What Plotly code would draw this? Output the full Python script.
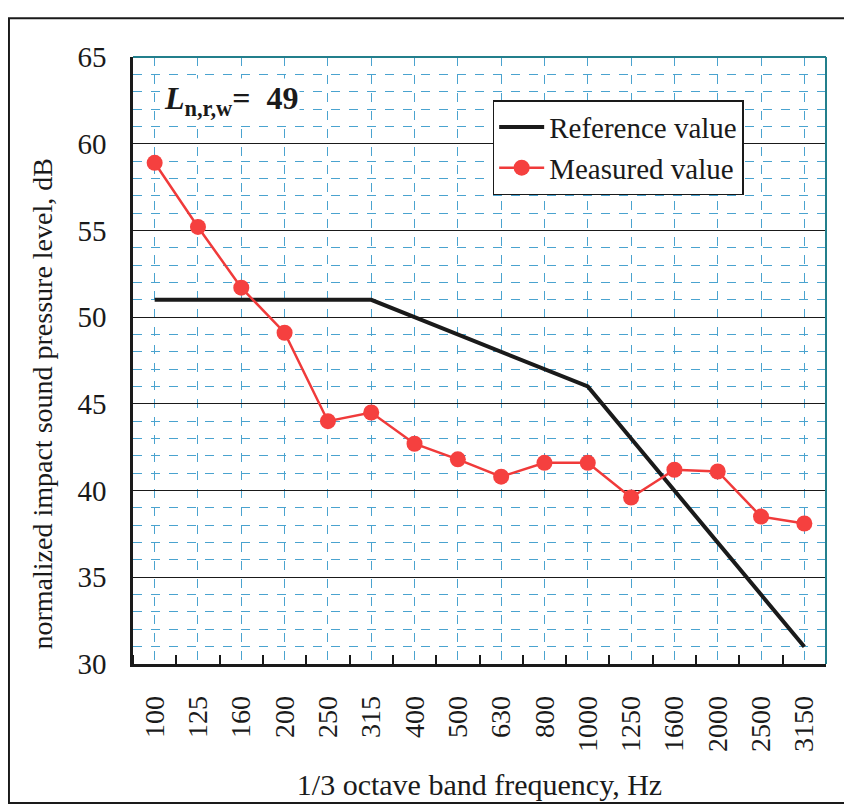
import plotly.graph_objects as go

categories = ["100", "125", "160", "200", "250", "315", "400", "500", "630",
              "800", "1000", "1250", "1600", "2000", "2500", "3150"]
reference_values = [51, 51, 51, 51, 51, 51, 50, 49, 48, 47, 46, 43, 40, 37, 34, 31]
measured_values = [58.9, 55.2, 51.7, 49.1, 44.0, 44.5, 42.7, 41.8, 40.8, 41.6,
                   41.6, 39.6, 41.2, 41.1, 38.5, 38.1]
y_ticks = [30, 35, 40, 45, 50, 55, 60, 65]

xs = list(range(len(categories)))
FONT = "Liberation Serif"

fig = go.Figure()
fig.add_trace(go.Scatter(
    x=xs, y=reference_values, mode="lines", name="Reference value",
    line=dict(color="#1a1a1a", width=4),
))
fig.add_trace(go.Scatter(
    x=xs, y=measured_values, mode="lines+markers", name="Measured value",
    line=dict(color="#f03a3a", width=2.5),
    marker=dict(color="#f5403f", size=16, line=dict(width=0)),
))

fig.update_layout(
    width=844, height=797,
    margin=dict(l=125, r=26, t=49, b=141),
    paper_bgcolor="white", plot_bgcolor="white",
    font=dict(family=FONT, size=28, color="#1a1a1a"),
    showlegend=True,
    legend=dict(
        x=0.519, y=0.929, xanchor="left", yanchor="top",
        bgcolor="white", bordercolor="#1a1a1a", borderwidth=1.5,
        font=dict(family=FONT, size=29, color="#1a1a1a"),
        tracegroupgap=0, itemwidth=45,
    ),
)

fig.update_xaxes(
    range=[-0.5, 15.5], automargin=False,
    tickmode="array", tickvals=xs, ticktext=categories,
    tickangle=-90, tickfont=dict(family=FONT, size=28),
    ticks="", ticklabelstandoff=18,
    showgrid=True, gridcolor="#4aa3cf", griddash="dash", gridwidth=1,
    minor=dict(tick0=0.5, dtick=1, ticks="inside", ticklen=9,
               tickcolor="#1a1a1a", tickwidth=1.5, showgrid=False),
    showline=True, linecolor="#1a1a1a", linewidth=2.5,
    zeroline=False,
    title=dict(text="1/3 octave band frequency, Hz",
               font=dict(family=FONT, size=30), standoff=24),
)

fig.update_yaxes(
    range=[30, 65], automargin=False,
    tickmode="array", tickvals=y_ticks,
    tickfont=dict(family=FONT, size=29),
    ticks="", ticklabelstandoff=18,
    showgrid=True, gridcolor="#1a1a1a", gridwidth=1.2,
    minor=dict(dtick=1, showgrid=True, gridcolor="#4aa3cf", griddash="dash", gridwidth=1),
    showline=True, linecolor="#1a1a1a", linewidth=2.5,
    zeroline=False,
)

# y-axis title (placed slightly below centre, as in the reference)
fig.add_annotation(
    xref="paper", yref="paper", x=-0.13, y=0.429, xanchor="center", yanchor="middle",
    text="normalized impact sound pressure level, dB", textangle=-90,
    showarrow=False, font=dict(family=FONT, size=28, color="#1a1a1a"),
)

# top and right frame lines (teal)
fig.add_shape(type="line", xref="paper", yref="paper", x0=0, x1=1, y0=1, y1=1,
              line=dict(color="#237f8c", width=2))
fig.add_shape(type="line", xref="paper", yref="paper", x0=1, x1=1, y0=0, y1=1,
              line=dict(color="#237f8c", width=2))
# outer border
fig.add_shape(type="rect", xref="paper", yref="paper",
              x0=-0.179, x1=1.032, y0=-0.229, y1=1.064,
              line=dict(color="#1a1a1a", width=2), layer="below")

fig.add_annotation(
    xref="paper", yref="paper", x=0.042, y=0.965, xanchor="left", yanchor="top",
    text="<b><i>L</i></b><sub><b>n,r,w</b></sub><b>=  49</b>",
    showarrow=False, font=dict(family=FONT, size=32, color="#1a1a1a"),
    bgcolor="white",
)

fig.write_html("out.html")
